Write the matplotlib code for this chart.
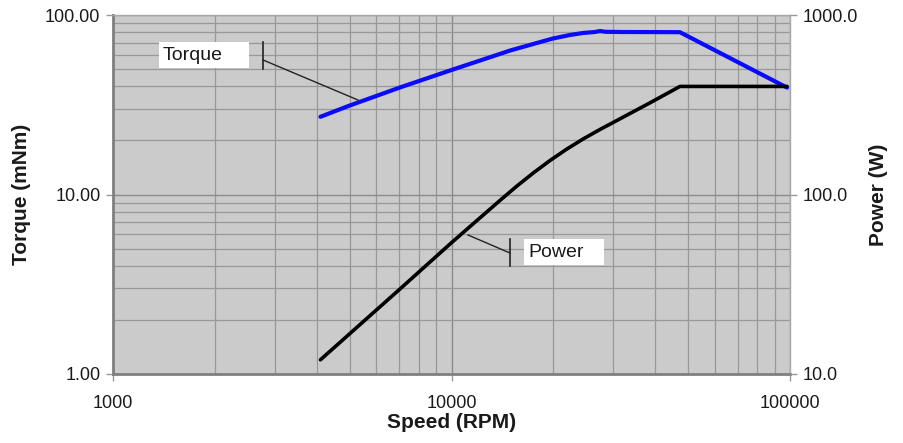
import matplotlib
matplotlib.use("Agg")
import matplotlib.pyplot as plt
from matplotlib.ticker import FixedLocator, FixedFormatter, LogLocator, NullFormatter
from matplotlib.patches import Rectangle
from matplotlib.lines import Line2D

plt.rcParams['font.family'] = ['Liberation Sans', 'DejaVu Sans']

# Data
speed_torque = [4100, 5000, 7050, 10100, 12400, 14900, 17850, 19950, 22400, 24450,
                26500, 27500, 28500, 32000, 40000, 47300, 98000]
torque_mNm = [27.1, 31.3, 39.5, 49.7, 56.5, 63.4, 69.8, 74.0, 77.4, 79.4,
              80.4, 81.4, 80.6, 80.4, 80.3, 80.2, 39.4]

speed_power = [4100, 7050, 10000, 13900, 15600, 17450, 19550, 21900, 24500, 27450,
               38500, 47300, 98000]
power_W = [12.0, 29.8, 53.9, 92.6, 111.4, 131.9, 154.7, 179.0, 204.0, 230.2,
           323.4, 400.0, 400.0]

x_ticks = [1000, 10000, 100000]
x_tick_labels = ["1000", "10000", "100000"]
torque_ticks = [1, 10, 100]
torque_tick_labels = ["1.00", "10.00", "100.00"]
power_ticks = [10, 100, 1000]
power_tick_labels = ["10.0", "100.0", "1000.0"]

fig = plt.figure(figsize=(9.04, 4.43), dpi=100)
ax = fig.add_axes([113/904, 1-374/443, 677/904, 359/443])
ax.set_facecolor('#cbcbcb')
ax.set_xscale('log')
ax.set_yscale('log')
ax.set_xlim(1000, 100000)
ax.set_ylim(1, 100)

grid_col = '#989898'
ax.xaxis.set_major_locator(FixedLocator(x_ticks))
ax.xaxis.set_major_formatter(FixedFormatter(x_tick_labels))
ax.xaxis.set_minor_locator(LogLocator(base=10, subs=range(2, 10)))
ax.xaxis.set_minor_formatter(NullFormatter())
ax.yaxis.set_major_locator(FixedLocator(torque_ticks))
ax.yaxis.set_major_formatter(FixedFormatter(torque_tick_labels))
ax.yaxis.set_minor_locator(LogLocator(base=10, subs=range(2, 10)))
ax.yaxis.set_minor_formatter(NullFormatter())
ax.grid(True, which='minor', axis='both', color=grid_col, linewidth=0.9)
ax.grid(True, which='major', axis='both', color='#8a8a8a', linewidth=1.0)
ax.set_axisbelow(True)

ax.tick_params(axis='y', which='major', direction='out', length=5, width=1, color='#9a9a9a',
               labelsize=13, labelcolor='#1a1a1a', pad=4)
ax.tick_params(axis='x', which='major', direction='out', length=5, width=1, color='#9a9a9a',
               labelsize=13, labelcolor='#1a1a1a', pad=10)
ax.tick_params(which='minor', length=0)

for s in ['left', 'bottom']:
    ax.spines[s].set_color('#808080')
    ax.spines[s].set_linewidth(2)
for s in ['top', 'right']:
    ax.spines[s].set_color('#a8a8a8')
    ax.spines[s].set_linewidth(1)

ax.plot(speed_torque, torque_mNm, color='#0a0aff', linewidth=3.0,
        solid_capstyle='round', solid_joinstyle='round', zorder=5)

ax2 = ax.twinx()
ax2.set_yscale('log')
ax2.set_ylim(10, 1000)
ax2.yaxis.set_major_locator(FixedLocator(power_ticks))
ax2.yaxis.set_major_formatter(FixedFormatter(power_tick_labels))
ax2.yaxis.set_minor_locator(LogLocator(base=10, subs=range(2, 10)))
ax2.yaxis.set_minor_formatter(NullFormatter())
ax2.tick_params(which='major', direction='out', length=5, width=1, color='#9a9a9a',
                labelsize=13, labelcolor='#1a1a1a', pad=4)
ax2.tick_params(which='minor', length=0)
for s in ax2.spines.values():
    s.set_visible(False)
ax2.plot(speed_power, power_W, color='black', linewidth=2.6,
         solid_capstyle='round', solid_joinstyle='round', zorder=5)

ax.set_xlabel('Speed (RPM)', fontsize=15, fontweight='bold', color='#1a1a1a', labelpad=1)
ax.set_ylabel('Torque (mNm)', fontsize=15, fontweight='bold', color='#1a1a1a', labelpad=10)
ax2.set_ylabel('Power (W)', fontsize=15, fontweight='bold', color='#1a1a1a', labelpad=8)

# Annotation labels (axes-fraction placement)
def label_box(x0, x1, y0, y1, text, tx):
    ax2.add_patch(Rectangle((x0, y0), x1 - x0, y1 - y0, transform=ax.transAxes,
                            facecolor='white', edgecolor='none', zorder=6))
    ax2.text(tx, (y0 + y1) / 2, text, transform=ax.transAxes, fontsize=14,
             color='#1a1a1a', va='center', ha='left', zorder=7)

label_box(0.0679, 0.2009, 0.852, 0.925, 'Torque', 0.0739)
ax2.add_line(Line2D([0.2216, 0.2216], [0.8496, 0.925], transform=ax.transAxes, color='#222222', lw=1.2, zorder=6))
ax2.add_line(Line2D([0.2216, 0.3619], [0.8747, 0.7632], transform=ax.transAxes, color='#222222', lw=1.0, zorder=6))

label_box(0.6071, 0.7253, 0.3036, 0.3760, 'Power', 0.613)
ax2.add_line(Line2D([0.5864, 0.5864], [0.3008, 0.376], transform=ax.transAxes, color='#222222', lw=1.2, zorder=6))
ax2.add_line(Line2D([0.5864, 0.5244], [0.337, 0.3872], transform=ax.transAxes, color='#222222', lw=1.0, zorder=6))

fig.savefig('out.png', dpi=100)
